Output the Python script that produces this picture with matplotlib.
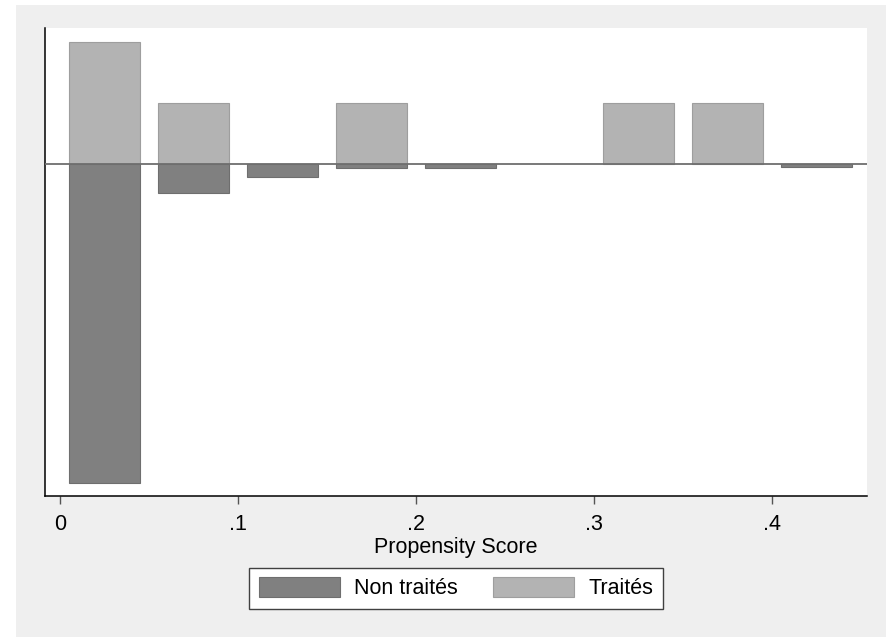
import matplotlib
matplotlib.use("Agg")
import matplotlib.pyplot as plt
from matplotlib.patches import Rectangle, Patch

# Data: propensity score bins (centres) and fractions per group
bin_centers = [0.025, 0.075, 0.125, 0.175, 0.225, 0.275, 0.325, 0.375, 0.425]
treated = [0.333, 0.167, 0.0, 0.167, 0.0, 0.0, 0.167, 0.167, 0.0]
untreated = [0.868, 0.077, 0.035, 0.011, 0.011, 0.0, 0.0, 0.0, 0.007]
xticks = [0, 0.1, 0.2, 0.3, 0.4]
xtick_labels = ["0", ".1", ".2", ".3", ".4"]
legend_labels = ["Non traités", "Traités"]

plt.rcParams['font.family'] = ['Liberation Sans', 'DejaVu Sans']
FS = 15.5

W, H = 887, 637
fig = plt.figure(figsize=(W / 100, H / 100), dpi=100, facecolor="white")
# gray panel
bg = Rectangle((16 / W, 0), 1 - 16 / W, 1 - 5 / H,
               transform=fig.transFigure, facecolor="#EFEFEF",
               edgecolor="none", zorder=-10)
fig.add_artist(bg)

ax = fig.add_axes([45 / W, 1 - 495.5 / H, (866.7 - 45) / W, (495.5 - 28) / H])
ax.set_zorder(1)
ax.set_facecolor("white")

bw = 0.04
tx = [c for c, v in zip(bin_centers, treated) if v > 0]
tv = [v for v in treated if v > 0]
ux = [c for c, v in zip(bin_centers, untreated) if v > 0]
uv = [-v for v in untreated if v > 0]
ax.bar(tx, tv, width=bw, color="#B3B3B3", edgecolor="#9E9E9E",
       linewidth=0.8, zorder=2)
ax.bar(ux, uv, width=bw, color="#808080",
       edgecolor="#6E6E6E", linewidth=0.8, zorder=2)
ax.axhline(0, color="#6E6E6E", linewidth=1.3, zorder=3)

ax.set_xlim(-0.00843, 0.4532)
ax.set_ylim(-0.9025, 0.3714)

ax.set_xticks(xticks)
ax.set_xticklabels(xtick_labels, fontsize=FS)
ax.set_yticks([])
ax.tick_params(axis="x", length=6, width=1, color="#555555", pad=7)

for s in ["top", "right"]:
    ax.spines[s].set_visible(False)
ax.spines["left"].set_color("black")
ax.spines["bottom"].set_color("black")
ax.spines["left"].set_linewidth(1.1)
ax.spines["bottom"].set_linewidth(1.1)

ax.set_xlabel("Propensity Score", fontsize=FS, labelpad=2)

handles = [Patch(facecolor="#808080", edgecolor="#6E6E6E", linewidth=0.8),
           Patch(facecolor="#B3B3B3", edgecolor="#9E9E9E", linewidth=0.8)]
leg = fig.legend(handles, legend_labels, loc="center",
                 bbox_to_anchor=(456 / W, 1 - 588.3 / H), ncol=2,
                 fontsize=FS, frameon=True, fancybox=False, framealpha=1,
                 handlelength=3.8, handleheight=1.0, handletextpad=0.65,
                 columnspacing=1.6, borderpad=0.45)
leg.set_zorder(5)
leg.get_frame().set_edgecolor("#404040")
leg.get_frame().set_linewidth(1.0)
leg.get_frame().set_facecolor("white")

fig.savefig("out.png", dpi=100, facecolor=fig.get_facecolor())
